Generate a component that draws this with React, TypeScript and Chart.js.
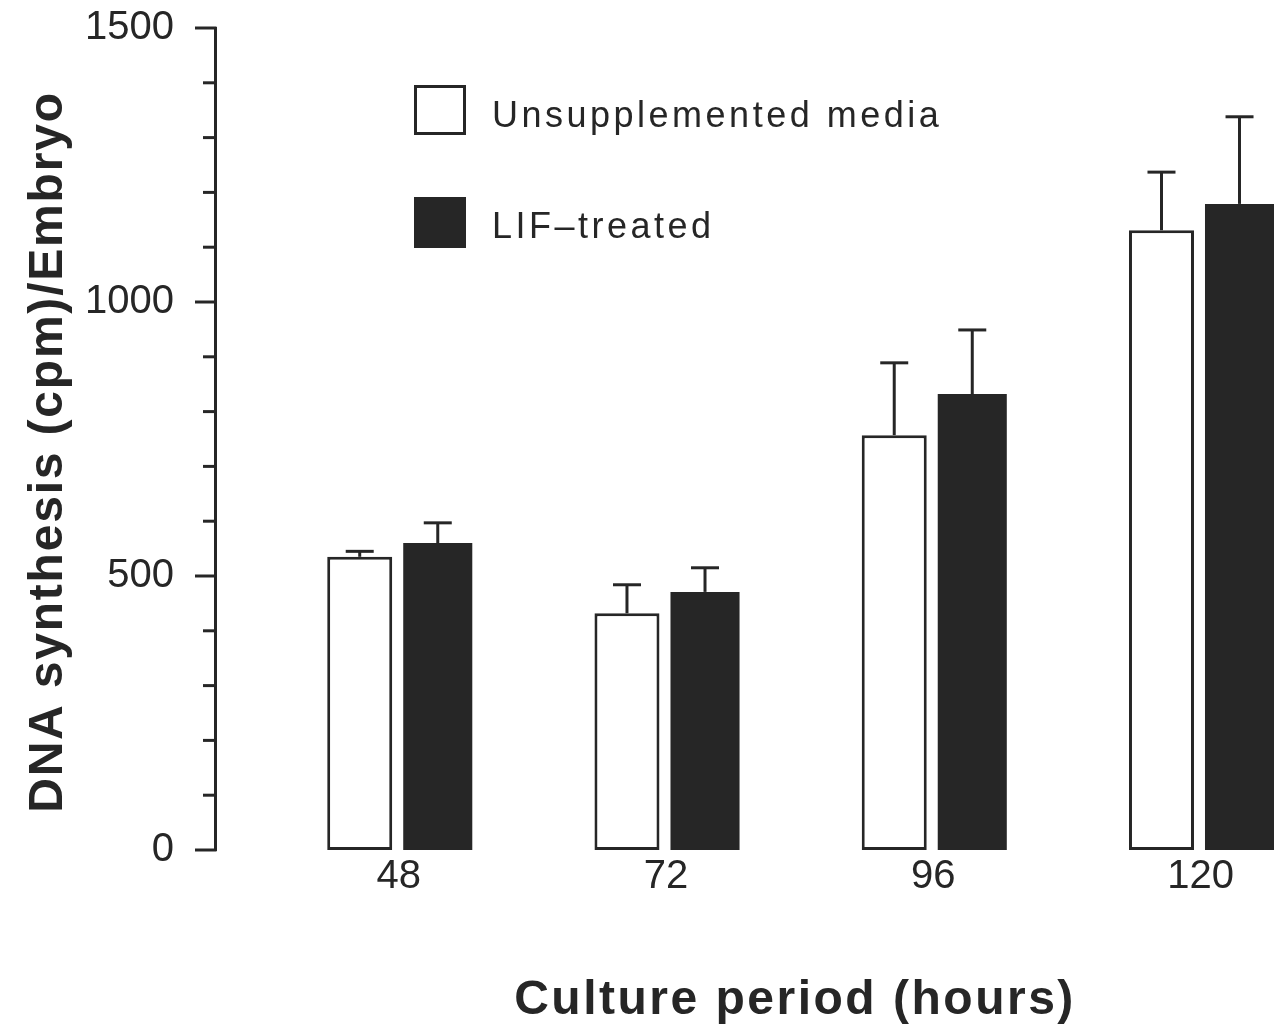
import { useEffect, useRef } from "react";
import { Chart, registerables } from "chart.js";

Chart.register(...registerables);

// ---- Data ----
const hours = [48, 72, 96, 120];
const unsupplemented = [535, 432, 757, 1131];
const unsupplementedErr = [10, 52, 132, 106];
const lifTreated = [560, 471, 832, 1179];
const lifTreatedErr = [37, 44, 117, 159];
const yTickLabels = [0, 500, 1000, 1500];
const seriesLabels = ["Unsupplemented media", "LIF\u2013treated"];
const xTitle = "Culture period (hours)";
const yTitle = "DNA synthesis (cpm)/Embryo";

const INK = "#262626";
const FONT = "'Liberation Sans', Arial, Helvetica, sans-serif";

const errorBarsPlugin = {
  id: "errorBars",
  afterDatasetsDraw(chart: any) {
    const ctx = chart.ctx;
    const yScale = chart.scales.y;
    ctx.save();
    ctx.strokeStyle = INK;
    ctx.lineWidth = 3;
    ctx.lineCap = "butt";
    chart.data.datasets.forEach((ds: any, di: number) => {
      const meta = chart.getDatasetMeta(di);
      meta.data.forEach((bar: any, i: number) => {
        const v = ds.data[i].y;
        const e = ds.errors[i];
        const x = bar.x;
        const yTop = bar.y;
        const yE = yScale.getPixelForValue(v + e);
        ctx.beginPath();
        ctx.moveTo(x, yTop);
        ctx.lineTo(x, yE);
        ctx.stroke();
        ctx.beginPath();
        ctx.moveTo(x - 14, yE);
        ctx.lineTo(x + 14, yE);
        ctx.stroke();
      });
    });
    ctx.restore();
  },
};

const decorPlugin = {
  id: "decor",
  afterDraw(chart: any) {
    const ctx = chart.ctx;
    const yScale = chart.scales.y;
    const left = chart.chartArea.left;
    ctx.save();
    // y tick marks (major longer, minor shorter)
    ctx.strokeStyle = INK;
    ctx.lineWidth = 3;
    yScale.ticks.forEach((t: any) => {
      const y = yScale.getPixelForValue(t.value);
      const len = yTickLabels.includes(t.value) ? 20 : 12;
      ctx.beginPath();
      ctx.moveTo(left - len, y);
      ctx.lineTo(left + 1.5, y);
      ctx.stroke();
    });

    // legend
    const ds0 = chart.data.datasets[0];
    const ds1 = chart.data.datasets[1];
    ctx.fillStyle = ds0.backgroundColor;
    ctx.fillRect(414, 85, 52, 50);
    ctx.strokeStyle = INK;
    ctx.lineWidth = 3;
    ctx.strokeRect(415.5, 86.5, 49, 47);
    ctx.fillStyle = ds1.backgroundColor;
    ctx.fillRect(414, 197, 52, 51);

    ctx.fillStyle = INK;
    ctx.font = `36px ${FONT}`;
    ctx.textAlign = "left";
    ctx.textBaseline = "middle";
    (ctx as any).letterSpacing = "3.5px";
    ctx.fillText(ds0.label, 492, 117);
    ctx.fillText(ds1.label, 492, 228);

    // axis titles
    ctx.font = `bold 48px ${FONT}`;
    (ctx as any).letterSpacing = "2.5px";
    ctx.textAlign = "center";
    ctx.textBaseline = "alphabetic";
    ctx.fillText(xTitle, 795, 1014);

    (ctx as any).letterSpacing = "1.8px";
    ctx.translate(62, 452);
    ctx.rotate(-Math.PI / 2);
    ctx.fillText(yTitle, 0, 0);
    (ctx as any).letterSpacing = "0px";
    ctx.restore();
  },
};

export default function App() {
  const canvasRef = useRef<HTMLCanvasElement | null>(null);

  useEffect(() => {
    document.body.style.margin = "0";
    const canvas = canvasRef.current;
    if (!canvas) return;
    const chart = new Chart(canvas, {
      type: "bar",
      data: {
        datasets: [
          {
            label: seriesLabels[0],
            data: hours.map((h, i) => ({ x: h, y: unsupplemented[i] })),
            errors: unsupplementedErr,
            backgroundColor: "#ffffff",
            borderColor: INK,
            borderWidth: 3,
            borderSkipped: false,
            categoryPercentage: 0.584,
            barPercentage: 0.833,
          } as any,
          {
            label: seriesLabels[1],
            data: hours.map((h, i) => ({ x: h, y: lifTreated[i] })),
            errors: lifTreatedErr,
            backgroundColor: INK,
            borderWidth: 0,
            categoryPercentage: 0.584,
            barPercentage: 0.885,
          } as any,
        ],
      },
      options: {
        responsive: false,
        animation: false,
        layout: { padding: { left: 0, right: 0, top: 28, bottom: 0 } },
        plugins: {
          legend: { display: false },
          tooltip: { enabled: false },
        },
        scales: {
          x: {
            type: "linear",
            min: 31.5,
            max: 126.6,
            offset: false,
            afterBuildTicks: (s: any) => {
              s.ticks = hours.map((v) => ({ value: v }));
            },
            afterFit: (s: any) => {
              s.height = 179;
              s.paddingLeft = 0;
              s.paddingRight = 0;
            },
            grid: { display: false, drawTicks: false },
            border: { display: false },
            ticks: {
              autoSkip: false,
              maxRotation: 0,
              padding: 3,
              color: INK,
              font: { family: FONT, size: 40 },
              callback: (v: any) => String(v),
            },
          },
          y: {
            type: "linear",
            min: 0,
            max: 1500,
            afterFit: (s: any) => {
              s.width = 215;
              s.paddingTop = 0;
              s.paddingBottom = 0;
            },
            grid: { display: false, drawTicks: true, tickLength: 20 },
            border: { display: true, color: INK, width: 3 },
            ticks: {
              stepSize: 100,
              autoSkip: false,
              padding: 21,
              color: INK,
              font: { family: FONT, size: 40 },
              callback: (v: any) => (yTickLabels.includes(v) ? String(v) : ""),
            },
          },
        },
      } as any,
      plugins: [errorBarsPlugin, decorPlugin],
    });
    return () => chart.destroy();
  }, []);

  return (
    <canvas
      ref={canvasRef}
      width={1274}
      height={1029}
      style={{ display: "block" }}
    />
  );
}
